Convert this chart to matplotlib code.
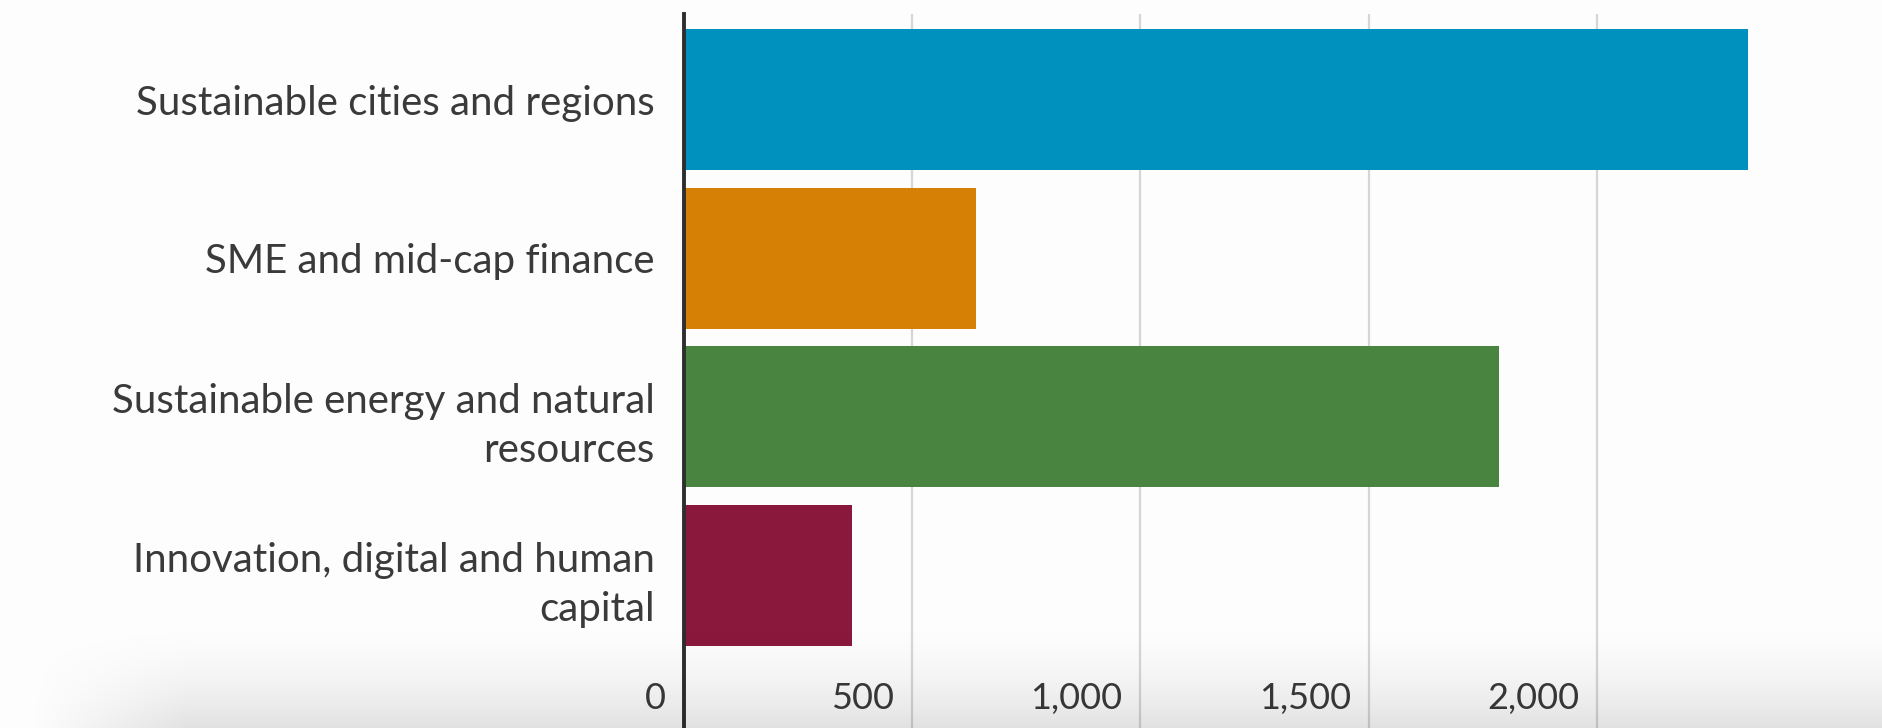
import numpy as np
import matplotlib.pyplot as plt
from matplotlib.transforms import ScaledTranslation

# data
categories = ["Sustainable cities and regions",
              "SME and mid-cap finance",
              "Sustainable energy and natural\nresources",
              "Innovation, digital and human\ncapital"]
values = [2330, 640, 1785, 368]
colors = ["#0091bf", "#d68005", "#498540", "#8a183d"]
xticks = [0, 500, 1000, 1500, 2000]
xtick_labels = ["0", "500", "1,000", "1,500", "2,000"]

plt.rcParams['font.family'] = ['Lato', 'DejaVu Sans']

W, H = 1883, 728
fig = plt.figure(figsize=(W / 100, H / 100), dpi=100)
fig.patch.set_facecolor("#fdfdfd")

ax = fig.add_axes([684 / W, 0, (1850 - 684) / W, (H - 14) / H])
ax.set_facecolor("none")
ypos = np.arange(len(categories))
ax.barh(ypos, values, height=0.89, color=colors, zorder=3)

ax.set_xlim(0, 1166 / 0.4565)
ax.set_ylim(3.965, -0.54)

ax.set_yticks(ypos)
ax.set_yticklabels(categories, fontsize=29, color="#3a3a3a", linespacing=1.4)
ax.set_xticks(xticks)
ax.set_xticklabels(xtick_labels, fontsize=26, color="#3a3a3a")
ax.tick_params(axis='y', length=0, pad=21)
ax.tick_params(axis='x', length=0, pad=-33)

# tick labels sit to the left of their gridline
off = ScaledTranslation(-0.18, 0, fig.dpi_scale_trans)
for lab in ax.get_xticklabels():
    lab.set_horizontalalignment('right')
    lab.set_transform(lab.get_transform() + off)

ax.grid(axis='x', color="#d6d6d6", linewidth=1.6, zorder=0)
ax.set_axisbelow(True)
for s in ["top", "right", "bottom"]:
    ax.spines[s].set_visible(False)
ax.spines["left"].set_color("#2e2e2e")
ax.spines["left"].set_linewidth(2.8)
ax.spines["left"].set_zorder(5)

# soft grey shading along the bottom of the screenshot
ov = fig.add_axes([0, 0, 1, 1], zorder=10)
ov.axis('off')
yy = np.linspace(0, 1, H)[:, None]
xx = np.arange(W)[None, :]
vert = np.clip((yy * H - 615) / (H - 615), 0, 1) ** 1.8
horiz = np.clip((xx - 28) / 160, 0, 1) * (xx >= 28)
alpha = 0.11 * vert * horiz
img = np.zeros((H, W, 4))
img[..., 3] = alpha
ov.imshow(img, extent=[0, 1, 0, 1], aspect='auto', origin='upper')
ov.set_xlim(0, 1)
ov.set_ylim(0, 1)

fig.savefig("out.png", dpi=100)
